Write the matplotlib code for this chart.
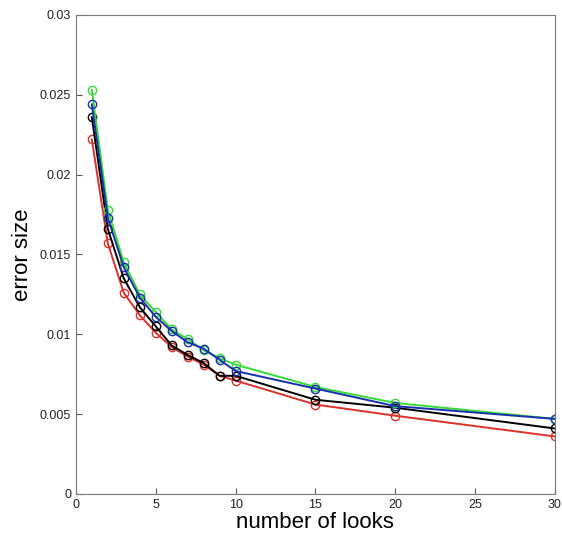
import matplotlib
matplotlib.use("Agg")
import matplotlib.pyplot as plt

plt.rcParams["font.family"] = ["Liberation Sans", "DejaVu Sans"]

looks = [1, 2, 3, 4, 5, 6, 7, 8, 9, 10, 15, 20, 30]

err_green = [0.0253, 0.0178, 0.0145, 0.0125, 0.0114, 0.0103, 0.0097, 0.0090, 0.0085,
             0.0081, 0.0067, 0.0057, 0.0047]
err_blue = [0.0244, 0.0173, 0.0142, 0.0123, 0.0111, 0.0102, 0.0095, 0.0091, 0.0084,
            0.0077, 0.0066, 0.0055, 0.0047]
err_black = [0.0236, 0.0166, 0.0135, 0.0117, 0.0105, 0.0093, 0.0087, 0.0082, 0.0074,
             0.0074, 0.0059, 0.0054, 0.0041]
err_red = [0.0222, 0.0157, 0.0126, 0.0112, 0.0101, 0.0092, 0.0086, 0.0081, 0.0074,
           0.0071, 0.0056, 0.0049, 0.0036]

series = [
    (err_red, "#e0302a"),
    (err_black, "#000000"),
    (err_green, "#33dd33"),
    (err_blue, "#1a2fb0"),
]

fig = plt.figure(figsize=(5.62, 5.44), dpi=100)
ax = fig.add_axes([0.135, 0.092, 0.8525, 0.8805])

for vals, color in series:
    ax.plot(looks, vals, color=color, linewidth=1.4, marker="o", markersize=6,
            markerfacecolor="none", markeredgecolor=color, markeredgewidth=1.0)

ax.set_xlim(0, 30)
ax.set_ylim(0, 0.03)
ax.set_xticks([0, 5, 10, 15, 20, 25, 30])
ax.set_yticks([0, 0.005, 0.01, 0.015, 0.02, 0.025, 0.03])
ax.set_yticklabels(["0", "0.005", "0.01", "0.015", "0.02", "0.025", "0.03"])
ax.tick_params(direction="in", length=4, labelsize=9, colors="#555555",
               labelcolor="#222222", top=False, right=False)
for sp in ax.spines.values():
    sp.set_color("#777777")

ax.set_xlabel("number of looks", fontsize=16, labelpad=1)
ax.set_ylabel("error size", fontsize=16, labelpad=5)

fig.savefig("out.png", dpi=100)
